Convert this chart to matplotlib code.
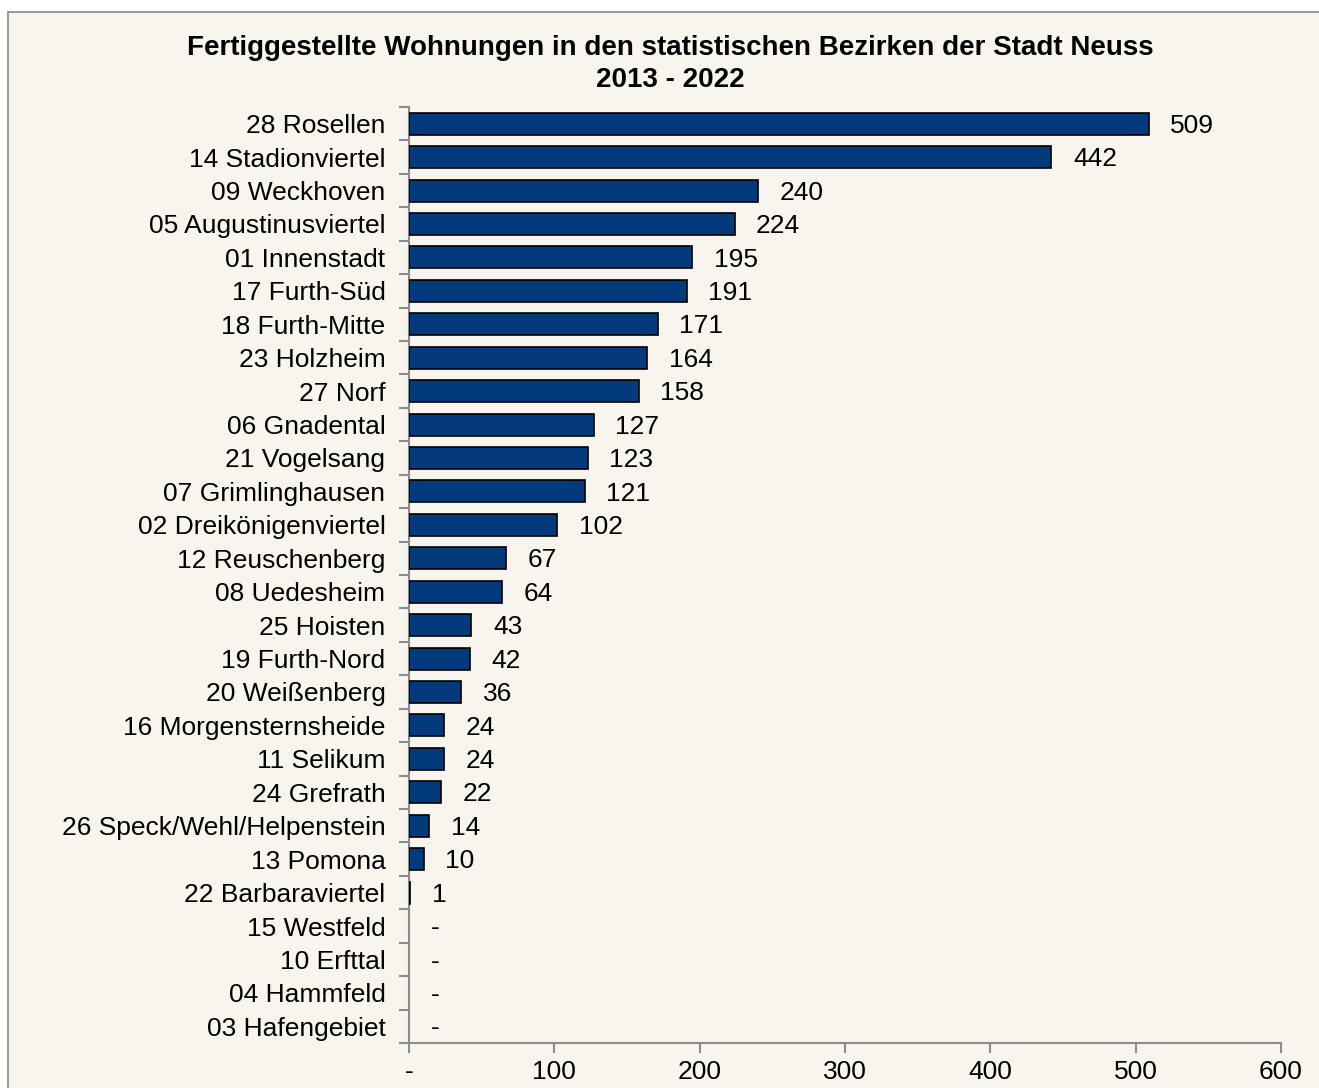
import numpy as np
import matplotlib
matplotlib.use("Agg")
import matplotlib.pyplot as plt
from matplotlib.patches import Rectangle

plt.rcParams['font.family'] = ['Liberation Sans', 'DejaVu Sans']

# data, top to bottom as in the chart
bezirke = ["28 Rosellen", "14 Stadionviertel", "09 Weckhoven", "05 Augustinusviertel",
           "01 Innenstadt", "17 Furth-Süd", "18 Furth-Mitte", "23 Holzheim", "27 Norf",
           "06 Gnadental", "21 Vogelsang", "07 Grimlinghausen", "02 Dreikönigenviertel",
           "12 Reuschenberg", "08 Uedesheim", "25 Hoisten", "19 Furth-Nord",
           "20 Weißenberg", "16 Morgensternsheide", "11 Selikum", "24 Grefrath",
           "26 Speck/Wehl/Helpenstein", "13 Pomona", "22 Barbaraviertel", "15 Westfeld",
           "10 Erfttal", "04 Hammfeld", "03 Hafengebiet"]
wohnungen = [509, 442, 240, 224, 195, 191, 171, 164, 158, 127, 123, 121, 102,
             67, 64, 43, 42, 36, 24, 24, 22, 14, 10, 1, 0, 0, 0, 0]
x_ticks = [0, 100, 200, 300, 400, 500, 600]
x_ticklabels = ["-", "100", "200", "300", "400", "500", "600"]

titel = "Fertiggestellte Wohnungen in den statistischen Bezirken der Stadt Neuss\n2013 - 2022"

bg = "#F7F5EE"
navy = "#023A7C"
grey = "#8C8C8C"
fs = 19
fs_num = 19

fig = plt.figure(figsize=(13.19, 10.88), dpi=100, facecolor="white")
W, H = 1319, 1088
# chart area frame
frame = Rectangle((8 / W, -0.01), 1.0, 1 - 12 / H + 0.01,
                  transform=fig.transFigure, facecolor=bg,
                  edgecolor="#8a8a8a", linewidth=1.2, zorder=-5)
fig.patches.append(frame)

ax = fig.add_axes([409 / W, 1 - 1043 / H, (1281 - 409) / W, (1043 - 107) / H])
ax.set_facecolor("none")
ax.set_zorder(2)

n = len(bezirke)
y = np.arange(n)
# no outline for empty bars
lw = [1.2 if v > 0 else 0 for v in wohnungen]
ax.barh(y, wohnungen, height=0.66, color=navy, edgecolor="black", linewidth=lw, zorder=3)

for yi, v in zip(y, wohnungen):
    txt = "-" if v == 0 else str(v)
    ax.annotate(txt, (v, yi), xytext=(15.5, -1.5), textcoords="offset points",
                ha="left", va="center", fontsize=fs_num, color="black")

ax.set_ylim(n - 0.5, -0.5)
ax.set_xlim(0, 600)

# category labels between boundary ticks (Excel style)
ax.set_yticks(y)
ax.set_yticklabels(bezirke, fontsize=fs)
ax.tick_params(axis="y", which="major", length=0, pad=17)
ax.set_yticks(np.arange(-0.5, n, 1.0), minor=True)
ax.tick_params(axis="y", which="minor", length=7, color=grey, width=1.5)

ax.set_xticks(x_ticks)
ax.set_xticklabels(x_ticklabels, fontsize=fs_num)
ax.tick_params(axis="x", length=7, color=grey, width=1.5, pad=5)

for s in ["top", "right"]:
    ax.spines[s].set_visible(False)
for s in ["left", "bottom"]:
    ax.spines[s].set_color(grey)
    ax.spines[s].set_linewidth(1.5)

fig.text(670 / W, 1 - 64 / H, titel, ha="center", va="center", fontsize=20,
         fontweight="bold", linespacing=1.3)

fig.savefig("out.png", dpi=100, facecolor="white")
